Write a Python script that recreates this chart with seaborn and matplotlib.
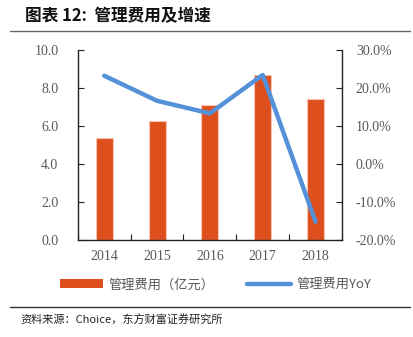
import numpy as np
import pandas as pd
import matplotlib
matplotlib.use("Agg")
import matplotlib.pyplot as plt
from matplotlib.lines import Line2D
from matplotlib.patches import Patch
from matplotlib.ticker import FuncFormatter, FixedLocator
import seaborn as sns

years = ["2014", "2015", "2016", "2017", "2018"]
expense = [5.38, 6.26, 7.10, 8.70, 7.40]          # 管理费用（亿元）
yoy = [0.232, 0.166, 0.133, 0.234, -0.152]         # 管理费用YoY
left_ticks = [0, 2, 4, 6, 8, 10]
right_ticks = [-0.2, -0.1, 0.0, 0.1, 0.2, 0.3]

sns.set_theme(style="white")
plt.rcParams['font.family'] = ['Noto Sans CJK SC', 'DejaVu Sans']

bar_color = "#DE4F1E"
line_color = "#5591D8"
tick_color = "#595959"

df = pd.DataFrame({"year": years, "expense": expense, "yoy": yoy})

fig = plt.figure(figsize=(4.14, 3.37), dpi=100)
ax = fig.add_axes([0.188, 0.288, 0.638, 0.564])

sns.barplot(data=df, x="year", y="expense", ax=ax, color=bar_color,
            width=0.32, saturation=1, edgecolor="#F6C3B0", linewidth=0.8)
ax.set_ylim(0, 10)
ax.yaxis.set_major_locator(FixedLocator(left_ticks))
ax.yaxis.set_major_formatter(FuncFormatter(lambda v, p: f"{v:.1f}"))

ax2 = ax.twinx()
sns.pointplot(data=df, x="year", y="yoy", ax=ax2, color=line_color,
              markers="", linestyles="-", lw=3.2)
ax2.set_ylim(-0.2, 0.3)
ax2.yaxis.set_major_locator(FixedLocator(right_ticks))
ax2.yaxis.set_major_formatter(FuncFormatter(lambda v, p: f"{v*100:.1f}%"))
ax.set_xlim(-0.5, 4.5)

for a in (ax, ax2):
    a.set_xlabel("")
    a.set_ylabel("")
    for s in a.spines.values():
        s.set_visible(False)
    a.grid(False)

ax.spines["left"].set_visible(True)
ax.spines["bottom"].set_visible(True)
ax2.spines["right"].set_visible(True)
for s in (ax.spines["left"], ax.spines["bottom"], ax2.spines["right"]):
    s.set_color("#222222")
    s.set_linewidth(1.0)

ax.tick_params(axis="y", direction="in", length=4, width=0.8, color="#222222",
               labelsize=10, labelcolor=tick_color, pad=14, left=True)
ax2.tick_params(axis="y", direction="in", length=4, width=0.8, color="#222222",
                labelsize=10, labelcolor=tick_color, pad=10, right=True)
ax.tick_params(axis="x", which="major", length=0, labelsize=10, labelcolor=tick_color, pad=7)
ax.set_xticks(np.arange(-0.5, 5, 1), minor=True)
ax.tick_params(axis="x", which="minor", direction="in", length=4, width=0.8,
               color="#222222", bottom=True)
for lab in ax.get_xticklabels() + ax.get_yticklabels() + ax2.get_yticklabels():
    lab.set_family(["Liberation Serif", "DejaVu Serif"])

handles = [Patch(facecolor=bar_color, edgecolor="none"),
           Line2D([0], [0], color=line_color, lw=3.2)]
fig.legend(handles, ["管理费用（亿元）", "管理费用YoY"], loc="center",
           bbox_to_anchor=(0.52, 0.155), ncol=2, frameon=False,
           fontsize=9.5, labelcolor=tick_color, handlelength=3.3,
           handleheight=0.7, columnspacing=2.5, handletextpad=0.4)

fig.text(0.06, 0.952, "图表 12:  管理费用及增速", fontsize=12, fontweight="bold",
         color="#111111", va="center", ha="left")
fig.add_artist(Line2D([0.025, 0.99], [0.908, 0.908], color="#666666", lw=1.0))
fig.add_artist(Line2D([0.025, 0.99], [0.089, 0.089], color="#333333", lw=1.0))
fig.text(0.05, 0.05, "资料来源：Choice，东方财富证券研究所", fontsize=8,
         color="#222222", va="center", ha="left")

fig.savefig("out.png", dpi=100)
